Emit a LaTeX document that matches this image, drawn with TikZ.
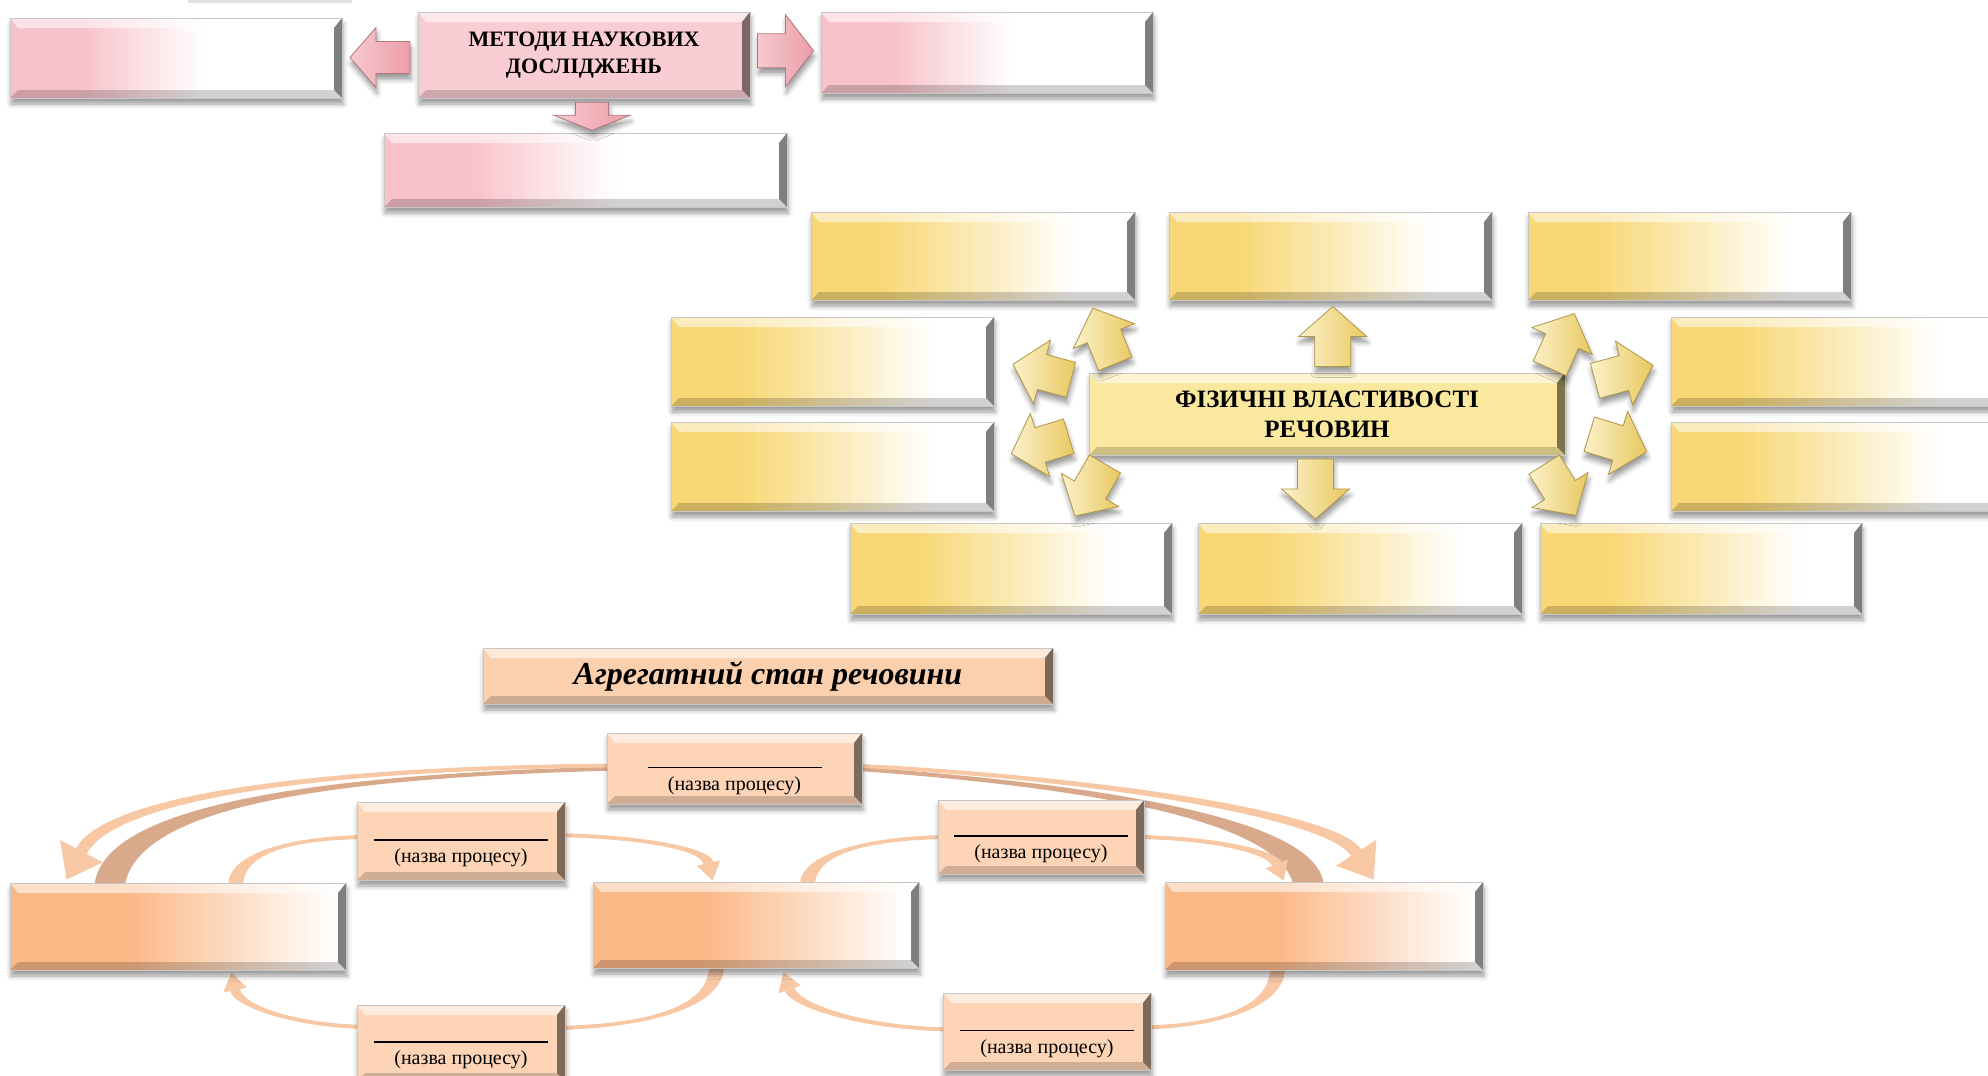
\documentclass[tikz,border=0pt]{standalone}
\usepackage{fontspec}
\setmainfont{Liberation Serif}
\usetikzlibrary{calc,shadows.blur}

% palette
\definecolor{pinkc}{HTML}{F8C2CA}
\definecolor{pinkm}{HTML}{F9CDD3}
\definecolor{pinka}{HTML}{EE9DA8}
\definecolor{yelc}{HTML}{F8D775}
\definecolor{yelm}{HTML}{FAE89E}
\definecolor{yela}{HTML}{F9E7A0}
\definecolor{yeld}{HTML}{E9C860}
\definecolor{orc}{HTML}{FBB887}
\definecolor{orm}{HTML}{FAD0AF}
\definecolor{orp}{HTML}{FDD5B6}
\definecolor{arcc}{HTML}{F8C8A4}
\definecolor{bandc}{HTML}{D8A98B}

% raised edges of a box: light top, darker bottom, dark right side
\newcommand\bevelcode{%
  \coordinate (bNW) at (path picture bounding box.north west);
  \coordinate (bNE) at (path picture bounding box.north east);
  \coordinate (bSW) at (path picture bounding box.south west);
  \coordinate (bSE) at (path picture bounding box.south east);
  \fill[white,opacity=.55] (bNW) -- (bNE) -- ([shift={(-4pt,-5pt)}]bNE) -- ([shift={(4pt,-5pt)}]bNW) -- cycle;
  \fill[black,opacity=.18] (bSW) -- ([shift={(4pt,4pt)}]bSW) -- ([shift={(-4pt,4pt)}]bSE) -- (bSE) -- cycle;
  \fill[black,opacity=.5] (bNE) -- (bSE) -- ([shift={(-4pt,4pt)}]bSE) -- ([shift={(-4pt,-5pt)}]bNE) -- cycle;
}

\tikzset{
  softshadow/.style={blur shadow={shadow xshift=0.5pt, shadow yshift=-3pt, shadow blur radius=2.5pt, shadow opacity=40}},
  box/.style={rectangle, inner sep=0pt, softshadow, draw=black!22, line width=0.3pt},
  solidbox/.style={box, fill=#1, path picture={\bevelcode}},
  % colour on the left, fading to white in strips between the fractions #2 and #3 of the width
  fadebox/.style n args={3}{box, fill=#1, path picture={
    \foreach \i in {0,...,29}{
      \pgfmathsetmacro\fa{#2+(#3-#2)*\i/30}
      \pgfmathsetmacro\fb{#2+(#3-#2)*(\i+1)/30+0.004}
      \pgfmathtruncatemacro\pct{100-100*(\i+0.5)/30}
      \fill[#1!\pct!white]
        ($(path picture bounding box.south west)!\fa!(path picture bounding box.south east)$)
        rectangle ($(path picture bounding box.north west)!\fb!(path picture bounding box.north east)$);
    }
    \fill[white]
      ($(path picture bounding box.south west)!#3!(path picture bounding box.south east)$)
      rectangle (path picture bounding box.north east);
    \bevelcode}},
  pinkfadebox/.style={fadebox={pinkc}{0.22}{0.58}},
  pinkbox/.style={solidbox=pinkm},
  yelfadebox/.style={fadebox={yelc}{0.22}{0.82}},
  yelbox/.style={solidbox=yelm},
  orfadebox/.style={fadebox={orc}{0.35}{0.97}},
  orbox/.style={solidbox=orm},
  procbox/.style={solidbox=orp},
  pinkarrow/.style={softshadow, left color=pinka!55!white, right color=pinka, draw=pinka!75!black, line width=0.4pt},
  yelarrow/.style={softshadow, left color=yela!55!white, right color=yeld, draw=yeld!75!black, line width=0.4pt},
  arcfill/.style={fill=arcc},
  bandfill/.style={fill=bandc},
  proclabel/.style={font=\fontsize{10}{12}\selectfont, inner sep=0pt},
}

% block arrow: name, centre, angle, length, head length, head width, shaft width, style
\newcommand\blockarrow[8]{%
  \coordinate (#1) at #2;
  \path[#8, shift={(#1)}, rotate=#3]
    (-#4/2,-#7/2) -- (#4/2-#5,-#7/2) -- (#4/2-#5,-#6/2) -- (#4/2,0)
    -- (#4/2-#5,#6/2) -- (#4/2-#5,#7/2) -- (-#4/2,#7/2) -- cycle;
}

% tapered curved band: start, control 1, control 2, end, half width at start, half width at end, style
\newcommand\taperlink[7]{%
  \path #1 coordinate (tS) #2 coordinate (tA) #3 coordinate (tB) #4 coordinate (tE);
  \path ($(tS)!#5!90:(tA)$) coordinate (tS1) ($(tS)!#5!-90:(tA)$) coordinate (tS2)
        ($(tE)!#6!-90:(tB)$) coordinate (tE1) ($(tE)!#6!90:(tB)$) coordinate (tE2);
  \fill[#7] (tS1) .. controls ($(tA)+(tS1)-(tS)$) and ($(tB)+(tE1)-(tE)$) .. (tE1)
     -- (tE2) .. controls ($(tB)+(tE2)-(tE)$) and ($(tA)+(tS2)-(tS)$) .. (tS2) -- cycle;
}

% tapered curved arrow: start, control 1, control 2, tip, half widths, head length, head half width, style
\newcommand\taperarrow[9]{%
  \path #4 coordinate (tT) #3 coordinate (tBB);
  \path ($(tT)!#7!(tBB)$) coordinate (tH);
  \taperlink{#1}{#2}{#3}{(tH)}{#5}{#6}{#9}
  \fill[#9] (tT) -- ($(tH)!#8!90:(tT)$) -- ($(tH)!#8!-90:(tT)$) -- cycle;
}

\begin{document}
\begin{tikzpicture}[x=0.5pt,y=-0.5pt]
\path[use as bounding box] (0,0) rectangle (1988,1076);
\clip (0,0) rectangle (1988,1076);

% ---------------- research methods ----------------
\draw[black!12, line width=1.5pt] (188,1) -- (352,1);
\node[pinkfadebox, minimum width=166pt, minimum height=40pt] (mL) at (176,58) {};
\node[pinkbox, minimum width=166pt, minimum height=43pt, align=center,
      font=\bfseries\fontsize{11}{13.5}\selectfont] (mC) at (584,55) {МЕТОДИ НАУКОВИХ\\ДОСЛІДЖЕНЬ};
\node[pinkfadebox, minimum width=166pt, minimum height=40.5pt] (mR) at (987,52.5) {};
\node[pinkfadebox, minimum width=201.5pt, minimum height=37pt] (mB) at (585.5,170) {};
\blockarrow{arL}{($(mL.east)!0.5!(mC.west)+(0,1)$)}{180}{60}{26}{60}{32}{pinkarrow}
\blockarrow{arR}{($(mC.east)!0.5!(mR.west)+(0,-3)$)}{0}{56}{28}{72}{34}{pinkarrow}
\blockarrow{arD}{($(mC.south)+(8,18)$)}{-90}{28}{15}{76}{33}{pinkarrow}

% ---------------- physical properties ----------------
\node[yelfadebox, minimum width=162pt, minimum height=44pt] (yA) at (973,256) {};
\node[yelfadebox, minimum width=161.5pt, minimum height=44pt] (yB) at (1330.5,256) {};
\node[yelfadebox, minimum width=161.5pt, minimum height=44pt] (yC) at (1689.5,256) {};
\node[yelfadebox, minimum width=161.5pt, minimum height=44.5pt] (yD) at (832.5,361.5) {};
\node[yelfadebox, minimum width=164pt, minimum height=44.5pt] (yE) at (1835,361.5) {};
\node[yelfadebox, minimum width=161.5pt, minimum height=44.5pt] (yF) at (832.5,466.5) {};
\node[yelfadebox, minimum width=164pt, minimum height=44.5pt] (yG) at (1835,466.5) {};
\node[yelfadebox, minimum width=161pt, minimum height=45.5pt] (yH) at (1011,568.5) {};
\node[yelfadebox, minimum width=162pt, minimum height=45.5pt] (yI) at (1360,568.5) {};
\node[yelfadebox, minimum width=161pt, minimum height=45.5pt] (yJ) at (1701,568.5) {};
\node[yelbox, minimum width=238pt, minimum height=41pt, align=center,
      font=\bfseries\fontsize{12.5}{15}\selectfont] (yCtr) at (1327,414) {ФІЗИЧНІ ВЛАСТИВОСТІ\\РЕЧОВИН};

\blockarrow{ayB}{($(yCtr.north)!0.5!(yB.south)+(4,0)$)}{90}{60}{30}{68}{36}{yelarrow}
\blockarrow{ayI}{($(yCtr.south)!0.5!(yI.north)+(-28,0)$)}{-90}{60}{30}{68}{36}{yelarrow}
\blockarrow{ayA}{(1104,336)}{112}{60}{30}{66}{36}{yelarrow}
\blockarrow{ayD}{(1042,372)}{165}{60}{30}{66}{36}{yelarrow}
\blockarrow{ayF}{(1040,445)}{197}{60}{30}{66}{36}{yelarrow}
\blockarrow{ayH}{(1090,490)}{240}{60}{30}{66}{36}{yelarrow}
\blockarrow{ayC}{(1562,341)}{66}{60}{30}{66}{36}{yelarrow}
\blockarrow{ayE}{(1624,373)}{15}{60}{30}{66}{36}{yelarrow}
\blockarrow{ayG}{(1618,443)}{-17}{60}{30}{66}{36}{yelarrow}
\blockarrow{ayJ}{(1560,490)}{-58}{60}{30}{66}{36}{yelarrow}

% ---------------- states of matter ----------------
\node[orbox, minimum width=285pt, minimum height=28pt,
      font=\bfseries\itshape\fontsize{16}{18}\selectfont] (oT) at (768,676) {Агрегатний стан речовини};

% state and process boxes (placed first so the links can refer to them)
\path (178,926.5) coordinate (sLc) (756,925) coordinate (sMc) (1324,926) coordinate (sRc)
      (734.5,768.5) coordinate (pTc) (461,841) coordinate (pULc) (1041,837) coordinate (pURc)
      (461,1043) coordinate (pBLc) (1047,1031.5) coordinate (pBRc);
\path node[minimum width=168pt, minimum height=43.5pt] (sL) at (sLc) {}
      node[minimum width=163pt, minimum height=43pt] (sM) at (sMc) {}
      node[minimum width=159pt, minimum height=44pt] (sR) at (sRc) {}
      node[minimum width=127.5pt, minimum height=35.5pt] (pT) at (pTc) {}
      node[minimum width=104pt, minimum height=39pt] (pUL) at (pULc) {}
      node[minimum width=103pt, minimum height=37pt] (pUR) at (pURc) {}
      node[minimum width=104pt, minimum height=38pt] (pBL) at (pBLc) {}
      node[minimum width=104pt, minimum height=38.5pt] (pBR) at (pBRc) {};

% transitions through the top process box
\taperlink{($(pT.west)+(10,0)$)}{(320,776)}{(120,806)}{($(sL.north west)+(100,3)$)}{1pt}{7.5pt}{bandfill}
\taperlink{($(pT.east)+(-10,0)$)}{(1100,786)}{(1298,820)}{($(sR.north west)+(144,3)$)}{1pt}{7.5pt}{bandfill}
\taperarrow{($(pT.west)+(10,-3)$)}{(300,768)}{(108,800)}{($(sL.north west)+(57,-3)$)}{1pt}{3pt}{16pt}{12pt}{arcfill}
\taperarrow{($(pT.east)+(-10,-3)$)}{(1100,778)}{(1332,815)}{($(sR.north west)+(209,-2)$)}{1pt}{3pt}{16pt}{12pt}{arcfill}

% upper transitions
\taperlink{($(sL.north west)+(226,3)$)}{(236,850)}{(300,838)}{($(pUL.west)+(8,-4)$)}{3.75pt}{1pt}{arcfill}
\taperarrow{($(pUL.east)+(-8,-6)$)}{(640,837)}{(705,848)}{($(sM.north west)+(120,-1)$)}{1pt}{2.5pt}{9pt}{6pt}{arcfill}
\taperlink{($(sM.north west)+(215,3)$)}{(808,850)}{(880,838)}{($(pUR.west)+(8,0)$)}{3.75pt}{1pt}{arcfill}
\taperarrow{($(pUR.east)+(-8,0)$)}{(1215,838)}{(1272,852)}{($(sR.north west)+(119,-1)$)}{1pt}{2.5pt}{9pt}{6pt}{arcfill}

% lower transitions
\taperlink{($(sM.south west)+(124,-3)$)}{(717,1010)}{(640,1026)}{($(pBL.east)+(-8,-15)$)}{3.75pt}{1pt}{arcfill}
\taperarrow{($(pBL.west)+(8,-16)$)}{(290,1025)}{(238,1005)}{($(sL.south west)+(222,2)$)}{1pt}{2.5pt}{9pt}{6pt}{arcfill}
\taperlink{($(sR.south west)+(113,-3)$)}{(1278,1010)}{(1210,1026)}{($(pBR.east)+(-8,-4)$)}{3.75pt}{1pt}{arcfill}
\taperarrow{($(pBR.west)+(8,-2)$)}{(860,1028)}{(795,1005)}{($(sM.south west)+(191,4)$)}{1pt}{2.5pt}{9pt}{6pt}{arcfill}

% boxes drawn over the link ends
\node[orfadebox, minimum width=168pt, minimum height=43.5pt] (sLb) at (sLc) {};
\node[orfadebox, minimum width=163pt, minimum height=43pt] (sMb) at (sMc) {};
\node[orfadebox, minimum width=159pt, minimum height=44pt] (sRb) at (sRc) {};
\foreach \p/\w/\h in {pT/127.5pt/35.5pt, pUL/104pt/39pt, pUR/103pt/37pt, pBL/104pt/38pt, pBR/104pt/38.5pt}{
  \node[procbox, minimum width=\w, minimum height=\h] (\p b) at (\p c) {};
  \draw[line width=0.9pt] ([shift={(-43.5pt,0.5pt)}]\p b.center) -- ([shift={(43.5pt,0.5pt)}]\p b.center);
  \node[proclabel] (\p t) at ([yshift=-8.5pt]\p b.center) {(назва процесу)};
}
\end{tikzpicture}
\end{document}
